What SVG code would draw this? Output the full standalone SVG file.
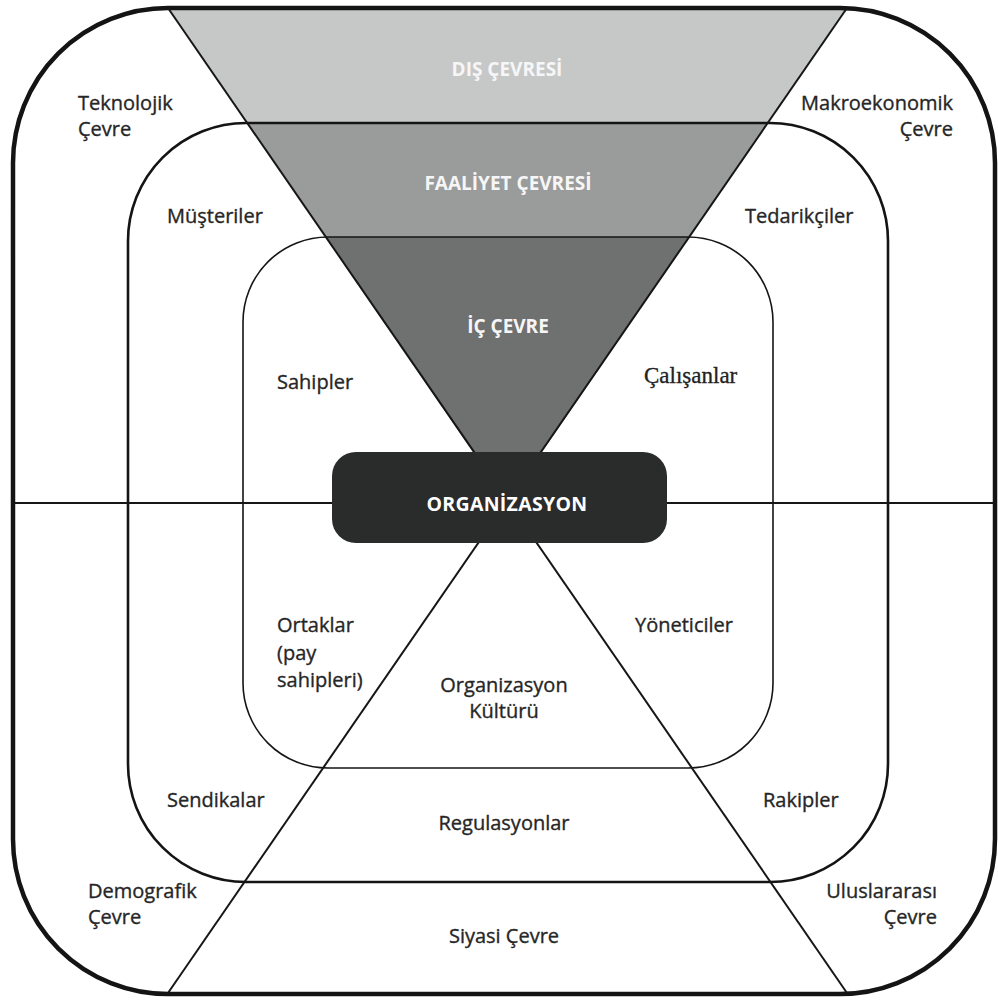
<svg xmlns="http://www.w3.org/2000/svg" width="998" height="1001" viewBox="0 0 998 1001">
  <style>
    .lbl { font-family: "Open Sans", "Noto Sans", "DejaVu Sans", sans-serif; font-size: 20px; fill: #262626; stroke: #262626; stroke-width: 0.35px; }
    .mid { text-anchor: middle; }
    .end { text-anchor: end; }
    .band { font-family: "Open Sans", "Noto Sans", "DejaVu Sans", sans-serif; font-size: 19px; font-weight: bold; fill: #f6f6f6; text-anchor: middle; }
    .ring { fill: none; stroke: #141414; }
    .conn { stroke: #161616; stroke-width: 2; fill: none; }
  </style>
  <rect x="0" y="0" width="998" height="1001" fill="#ffffff"/>

  <g id="funnel">
    <polygon points="168,8 847,8 768,123 247,123" fill="#c6c8c8"/>
    <polygon points="247,123 768,123 689.6,237 325.4,237" fill="#9a9b9b"/>
    <polygon points="325.4,237 689.6,237 507.5,502" fill="#6f7070"/>
  </g>

  <g id="inner-ring">
    <rect class="ring" x="243" y="237" width="530" height="531" rx="85" ry="85" stroke-width="1.6"/>
  </g>
  <g id="middle-ring">
    <rect class="ring" x="128" y="123" width="760" height="759" rx="118" ry="118" stroke-width="2.6"/>
  </g>
  <g id="outer-ring">
    <rect class="ring" x="13" y="8" width="982" height="986" rx="155" ry="155" stroke-width="4.5"/>
  </g>

  <g id="connectors">
    <line class="conn" x1="168" y1="8" x2="847" y2="993"/>
    <line class="conn" x1="847" y1="8" x2="168" y2="993"/>
    <line class="conn" x1="13" y1="503" x2="995" y2="503" stroke-width="1.8"/>
  </g>

  <g id="band-labels">
    <text class="band" x="507" y="76">DIŞ ÇEVRESİ</text>
    <text class="band" x="508" y="190">FAALİYET ÇEVRESİ</text>
    <text class="band" x="508" y="333">İÇ ÇEVRE</text>
  </g>

  <g id="organizasyon">
    <rect x="332" y="452" width="335" height="91" rx="24" ry="24" fill="#2a2b2b"/>
    <text x="507" y="511" text-anchor="middle" font-family="'Open Sans', 'Noto Sans', 'DejaVu Sans', sans-serif" font-size="19.5" font-weight="bold" fill="#ffffff" letter-spacing="0.3">ORGANİZASYON</text>
  </g>

  <g id="teknolojik">
    <text class="lbl" x="78" y="110">Teknolojik</text>
    <text class="lbl" x="78" y="136">Çevre</text>
  </g>
  <g id="makroekonomik">
    <text class="lbl end" x="953" y="110">Makroekonomik</text>
    <text class="lbl end" x="953" y="136">Çevre</text>
  </g>
  <g id="musteriler"><text class="lbl" x="167" y="223">Müşteriler</text></g>
  <g id="tedarikciler"><text class="lbl" x="745" y="223">Tedarikçiler</text></g>
  <g id="sahipler"><text class="lbl" x="277" y="389">Sahipler</text></g>
  <g id="calisanlar"><text x="644" y="383" font-family="'Liberation Serif', 'Times New Roman', serif" font-size="23" fill="#222222" stroke="#222222" stroke-width="0.3">Çalışanlar</text></g>
  <g id="ortaklar">
    <text class="lbl" x="277" y="632">Ortaklar</text>
    <text class="lbl" x="277" y="660">(pay</text>
    <text class="lbl" x="277" y="687">sahipleri)</text>
  </g>
  <g id="yoneticiler"><text class="lbl" x="635" y="632">Yöneticiler</text></g>
  <g id="kultur">
    <text class="lbl mid" x="504" y="692">Organizasyon</text>
    <text class="lbl mid" x="504" y="718">Kültürü</text>
  </g>
  <g id="sendikalar"><text class="lbl" x="167" y="807">Sendikalar</text></g>
  <g id="rakipler"><text class="lbl" x="763" y="807">Rakipler</text></g>
  <g id="regulasyonlar"><text class="lbl mid" x="504" y="830">Regulasyonlar</text></g>
  <g id="demografik">
    <text class="lbl" x="88" y="898">Demografik</text>
    <text class="lbl" x="88" y="924">Çevre</text>
  </g>
  <g id="uluslararasi">
    <text class="lbl end" x="937" y="898">Uluslararası</text>
    <text class="lbl end" x="937" y="924">Çevre</text>
  </g>
  <g id="siyasi"><text class="lbl mid" x="504" y="943">Siyasi Çevre</text></g>
</svg>
